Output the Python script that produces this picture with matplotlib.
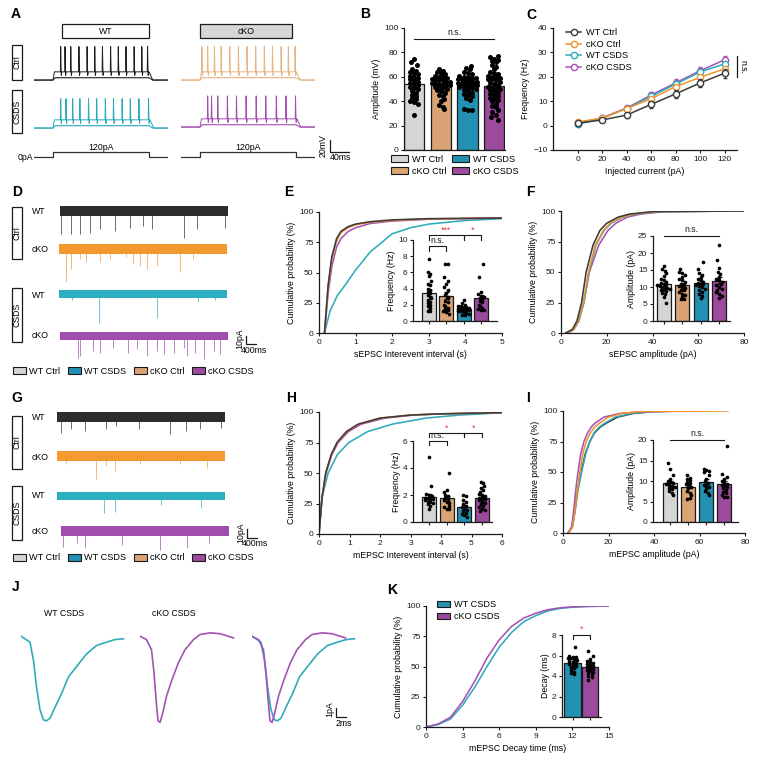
import numpy as np
import matplotlib
matplotlib.use("Agg")
import matplotlib.pyplot as plt
from matplotlib.patches import Rectangle, Patch
from matplotlib.lines import Line2D

plt.rcParams["font.family"] = ["Liberation Sans", "DejaVu Sans"]
plt.rcParams["font.size"] = 6
plt.rcParams["axes.linewidth"] = 0.9

W, H = 761, 770
FS = 6.3      # axis labels / annotations
TS = 6.0      # tick labels
LS = 6.6      # legends
INK = "#1a1a1a"

groups = ["WT Ctrl", "cKO Ctrl", "WT CSDS", "cKO CSDS"]
bar_colors = ["#d5d5d5", "#d9a374", "#2392b2", "#9b4a9c"]
curve_colors = ["#3b3b3b", "#f0922f", "#2fabbb", "#a453b2"]
a_colors = ["#1e1e1e", "#e8b482", "#2aa9b9", "#a24faf"]
trace_colors = ["#2d2d2d", "#f29a30", "#2cb0c1", "#a04ead"]

# ---------------- A: spike times (ms after step onset) and peak voltages
a_spikes = [
    [16, 25, 37, 54, 71, 87, 103, 120, 136, 152, 169, 185, 197],
    [4, 16, 30, 44, 62, 80, 98, 116, 134, 151, 169, 184, 198],
    [16, 27, 41, 56, 74, 91, 109, 126, 144, 161, 179, 199],
    [16, 24, 37, 57, 76, 96, 117, 137, 159, 179, 199],
]
a_peak_mv = [-13, -13, -20, -17]
a_step_pa = 120

# ---------------- B: AP amplitude (mV)
b_wt_ctrl = [75, 72, 70, 66, 65, 64, 63, 62, 61, 60, 59, 58, 57, 56, 55, 54, 53, 52, 51, 50,
             48, 47, 45, 44, 43, 42, 40, 39, 38, 29]
b_cko_ctrl = [66, 65, 64, 63, 62, 61, 60, 60, 59, 58, 58, 57, 57, 56, 56, 55, 55, 54, 54, 53,
              53, 52, 52, 51, 50, 49, 48, 47, 45, 44, 42, 40, 37, 35, 34]
b_wt_csds = [69, 67, 66, 64, 63, 62, 61, 60, 60, 59, 59, 58, 58, 57, 57, 56, 56, 55, 55, 55,
             54, 54, 53, 53, 52, 52, 51, 51, 50, 49, 48, 47, 46, 45, 44, 43, 41, 34, 33, 33]
b_cko_csds = [77, 76, 75, 74, 73, 72, 70, 68, 66, 64, 63, 62, 61, 60, 60, 59, 58, 58, 57, 56,
              55, 54, 53, 52, 51, 50, 50, 49, 48, 47, 46, 45, 44, 43, 42, 41, 40, 38, 36, 35,
              33, 31, 29, 27, 25]

# ---------------- C: firing frequency vs injected current
c_current = [0, 20, 40, 60, 80, 100, 120]
c_freq = [
    [1.0, 2.3, 4.3, 8.7, 13.0, 17.5, 21.5],
    [1.5, 3.0, 7.0, 11.0, 16.0, 19.8, 23.3],
    [0.5, 3.0, 7.0, 12.0, 17.0, 22.0, 25.3],
    [0.8, 3.2, 7.2, 12.5, 17.5, 22.5, 27.0],
]
c_err = [
    [0.5, 0.7, 1.0, 1.3, 1.6, 1.6, 1.8],
    [0.5, 0.6, 1.0, 1.3, 1.3, 1.4, 1.5],
    [0.4, 0.6, 1.0, 1.3, 1.3, 1.4, 1.5],
    [0.4, 0.6, 1.0, 1.4, 1.4, 1.5, 1.6],
]

# ---------------- D / G: event times (s) and amplitudes (pA), noise half width (pA)
d_times = [
    [0.05, 0.43, 0.8, 1.2, 1.6, 2.2, 2.8, 3.33, 3.67, 4.93, 5.47, 6.6],
    [0.29, 0.49, 0.83, 1.09, 1.63, 2.03, 2.69, 2.96, 3.23, 3.49, 3.89, 4.83, 5.36],
    [0.53, 1.59, 3.89, 5.56, 6.23],
    [0.73, 0.8, 1.33, 1.6, 2.13, 2.73, 3.07, 3.47, 3.87, 4.13, 4.53, 4.93, 5.07, 5.4,
     5.73, 6.13, 6.4],
]
d_amps = [
    [28, 28, 28, 26, 22, 24, 20, 18, 22, 32, 22, 20],
    [40, 24, 12, 16, 16, 12, 10, 18, 20, 24, 20, 28, 12],
    [7, 35, 29, 9, 7],
    [26, 24, 18, 20, 14, 20, 16, 24, 18, 22, 20, 14, 24, 20, 28, 18, 22],
]
d_noise = [6.0, 6.0, 5.0, 5.2]
g_times = [
    [0.16, 0.56, 1.13, 1.96, 2.36, 3.29, 4.49, 5.16, 5.69, 6.56],
    [0.37, 1.57, 1.97, 2.31, 3.31, 4.91, 5.97],
    [1.87, 2.33, 4.13, 5.73],
    [0.09, 0.63, 0.96, 2.43, 3.96, 5.03, 5.9],
]
g_amps = [
    [19, 15, 17, 15, 11, 15, 21, 17, 15, 13],
    [10, 28, 12, 18, 10, 10, 14],
    [21, 19, 11, 15],
    [19, 15, 21, 17, 23, 21, 15],
]
g_noise = [5.8, 6.0, 5.0, 5.6]
trace_len_s = 6.7

# ---------------- E: sEPSC interevent interval
e_x = [
    [0.15, 0.25, 0.35, 0.48, 0.6, 0.8, 1.0, 1.4, 2.0, 3.0, 5.0],
    [0.15, 0.25, 0.35, 0.48, 0.6, 0.8, 1.0, 1.4, 2.0, 3.0, 5.0],
    [0.15, 0.3, 0.5, 0.7, 1.0, 1.4, 2.0, 2.5, 3.0, 4.0, 5.0],
    [0.15, 0.25, 0.35, 0.48, 0.6, 0.8, 1.0, 1.4, 2.0, 3.0, 5.0],
]
e_y = [
    [0, 40, 63, 78, 84, 88, 90, 92, 93.5, 94.5, 95],
    [0, 38, 61, 76, 83, 87, 89.5, 91.5, 93, 94.3, 95],
    [0, 18, 31, 39, 52, 67, 82, 87, 90, 93, 94.5],
    [0, 33, 55, 71, 78, 84, 87, 90.5, 92.5, 94, 95],
]
e_freq = [
    [7.6, 6.0, 5.8, 5.6, 5.0, 4.6, 4.4, 4.0, 3.8, 3.6, 3.4, 3.2, 3.0, 2.8, 2.6, 2.4, 2.2, 2.0,
     1.8, 1.6, 1.3, 1.2, 1.2],
    [7.0, 7.0, 5.4, 5.0, 4.6, 4.2, 3.8, 3.5, 3.2, 3.0, 2.8, 2.5, 2.3, 2.0, 1.8, 1.6, 1.5, 1.3,
     1.2, 1.1, 0.9],
    [2.6, 2.2, 2.0, 1.9, 1.8, 1.7, 1.7, 1.6, 1.5, 1.5, 1.4, 1.4, 1.3, 1.2, 1.2, 1.1, 1.0, 0.9,
     0.8, 0.7],
    [7.0, 5.4, 3.6, 3.3, 3.1, 3.0, 2.9, 2.7, 2.5, 2.3, 2.0, 1.8, 1.6, 1.5, 1.4, 1.3],
]

# ---------------- F: sEPSC amplitude
f_y = [0, 3, 10, 25, 50, 72, 84, 90, 95, 97.5, 99.5, 100]
f_x = [
    [2, 5, 7, 9, 11, 14, 17, 20, 25, 30, 40, 80],
    [3, 5.5, 7.6, 9.8, 12, 15, 18.5, 21.5, 26.5, 32, 42, 80],
    [3, 5.6, 7.8, 10, 12.2, 15.3, 18.8, 22, 27, 33, 43, 80],
    [3, 5.6, 7.8, 10, 12.4, 16.5, 20.5, 24, 29, 35, 45, 80],
]
f_amp = [
    [16.2, 15.4, 14.8, 14, 13.2, 12.5, 12, 11.5, 11.2, 11, 10.8, 10.5, 10.3, 10.1, 10, 9.8,
     9.5, 9.2, 9, 8.7, 8.3, 7.8, 7.2, 5.2],
    [15.3, 14.4, 14, 13.5, 13, 12.5, 12, 11.5, 11, 10.6, 10.3, 10, 9.6, 9.2, 9, 8.5, 8, 7.6,
     7.2, 6.5, 6.5],
    [17.3, 15.2, 14, 13.5, 13, 12.5, 12, 11.6, 11.3, 11, 10.8, 10.5, 10.2, 10, 9.5, 9, 8.6, 8,
     7.5, 6.8],
    [22.3, 17.8, 15.5, 14.5, 13.8, 13, 12.5, 12, 11.5, 11, 10.5, 10, 9.5, 9, 8.5, 8, 7.5, 6.8],
]

# ---------------- H: mEPSC interevent interval
h_y = [0, 30, 50, 65, 75, 84, 90, 95, 97.5, 98.5, 99.5]
h_x = [
    [0, 0.1, 0.22, 0.4, 0.59, 0.9, 1.28, 2.0, 3.0, 4.0, 6.0],
    [0, 0.1, 0.22, 0.4, 0.6, 0.92, 1.3, 2.0, 3.0, 4.0, 6.0],
    [0, 0.1, 0.3, 0.6, 0.98, 1.6, 2.4, 3.5, 4.6, 5.4, 6.0],
    [0, 0.1, 0.23, 0.42, 0.63, 0.97, 1.38, 2.15, 3.1, 4.1, 6.0],
]
h_freq = [
    [4.8, 2.7, 2.1, 2.0, 1.9, 1.8, 1.8, 1.7, 1.7, 1.6, 1.5, 1.5, 1.4, 1.3, 1.2, 1.0],
    [3.6, 2.4, 2.2, 2.0, 1.9, 1.8, 1.7, 1.6, 1.5, 1.4, 1.2, 1.1, 1.0, 1.0],
    [2.0, 1.9, 1.6, 1.5, 1.3, 1.2, 1.1, 1.0, 0.9, 0.8, 0.7, 0.6, 0.5, 0.4],
    [3.0, 2.9, 2.7, 2.5, 2.4, 2.2, 2.1, 2.0, 1.9, 1.8, 1.8, 1.7, 1.6, 1.5, 1.4, 1.3, 1.2,
     1.1, 1.0, 0.9, 0.8],
]

# ---------------- I: mEPSC amplitude
i_y = [0, 5, 20, 35, 50, 65, 75, 82, 87, 90, 95, 98, 99.5, 100]
i_x = [
    [2.2, 4.0, 5.3, 6.4, 8.0, 9.8, 11.8, 13.8, 16.5, 19, 24, 31, 40, 52.6],
    [2.6, 4.2, 5.4, 6.3, 7.4, 8.7, 10.2, 12, 14, 16, 20, 26, 34, 72.5],
    [2.4, 4.2, 5.5, 6.6, 8.2, 10.0, 11.8, 13.6, 16.0, 18.3, 23, 30, 39, 52.6],
    [2.4, 3.8, 4.8, 5.6, 6.6, 7.8, 9.2, 10.8, 12.5, 14, 18, 25, 35, 52.6],
]
i_amp = [
    [14.3, 13.0, 11.5, 10.5, 10, 9.8, 9.5, 9.2, 9, 8.8, 8.5, 8.2, 8, 7.5, 7, 6.5],
    [11.5, 10.8, 10.5, 10.2, 9.8, 9.5, 9.2, 9, 8.5, 8.2, 7.5, 7, 6.5, 5.7, 5.8],
    [13, 12.8, 12.5, 12.2, 11.5, 10.5, 10, 9.5, 9, 8.8, 8.5, 8, 7.5, 7, 6.5],
    [18.5, 11.7, 11, 10.5, 10, 9.6, 9.3, 9, 8.8, 8.5, 8.2, 7.8, 7.3, 7, 6.5, 6.2, 6],
]

# ---------------- J: averaged mEPSC waveforms (ms, pA)
j_wt_t = [0, 1.8, 2.5, 3.1, 3.8, 4.5, 5.1, 5.8, 6.8, 8.1, 9.5, 11.1, 13.1, 15.1, 17.1, 18.8, 20.5]
j_wt_i = [0, -0.7, -2.9, -6.0, -8.7, -9.9, -10.0, -9.7, -8.4, -6.8, -4.8, -3.6, -2.1, -1.1,
          -0.7, -0.4, -0.3]
j_cko_t = [0, 1.3, 2.3, 2.8, 3.2, 3.6, 4.0, 4.5, 5.3, 6.3, 7.7, 9.0, 10.7, 12.0, 14.0, 16.0, 18.7]
j_cko_i = [0, -0.4, -1.6, -4.3, -7.4, -10.0, -10.2, -9.2, -7.1, -5.3, -3.1, -1.6, -0.4, 0.2,
           0.4, 0.3, -0.2]

# ---------------- K: mEPSC decay
k_x = [0, 1, 2, 3, 4, 5, 6, 7, 8, 9, 10, 11, 12, 13, 15]
k_wt_csds = [0, 2, 6.5, 18, 33, 50, 66, 78, 87, 92, 96, 98, 99, 99.5, 100]
k_cko_csds = [0, 2.5, 8, 21, 38, 57, 72, 83, 90, 94, 97, 98.5, 99.3, 99.7, 100]
k_decay_wt = [6.8, 6.0, 5.9, 5.9, 5.8, 5.8, 5.7, 5.6, 5.5, 5.4, 5.3, 5.2, 5.1, 5.0, 4.9, 4.8,
              4.6, 4.4, 4.3, 4.2]
k_decay_cko = [6.4, 6.0, 5.7, 5.5, 5.4, 5.3, 5.2, 5.1, 5.0, 4.9, 4.8, 4.7, 4.6, 4.5, 4.4, 4.3,
               4.2, 4.0, 3.9, 3.6]


fig = plt.figure(figsize=(W / 100, H / 100), dpi=100)


def px_axes(x0, y0, x1, y1):
    return fig.add_axes([x0 / W, 1 - y1 / H, (x1 - x0) / W, (y1 - y0) / H])


def style(ax):
    for s in ["top", "right"]:
        ax.spines[s].set_visible(False)
    for s in ["left", "bottom"]:
        ax.spines[s].set_color(INK)
        ax.spines[s].set_linewidth(0.9)
    ax.tick_params(length=2.5, width=0.8, pad=1.5, labelsize=TS, colors=INK)
    ax.patch.set_alpha(0)


def bare(ax):
    ax.axis("off")
    ax.patch.set_alpha(0)


def swarm(vals, binw, step, maxoff):
    v = np.asarray(vals, float)
    offs = np.zeros(len(v))
    bins = np.round(v / binw)
    for b in np.unique(bins):
        idx = np.where(bins == b)[0]
        n = len(idx)
        if n > 1:
            st = min(step, 2 * maxoff / (n - 1))
            offs[idx] = (np.arange(n) - (n - 1) / 2) * st
        else:
            offs[idx] = ((b % 3) - 1) * step * 0.8
    return offs


def dot_bars(ax, data, colors, width, binw, dot_s=7):
    for i, vals in enumerate(data):
        v = np.asarray(vals, float)
        m = v.mean()
        se = v.std(ddof=1) / np.sqrt(len(v))
        ax.bar(i, m, width, color=colors[i], edgecolor=INK, linewidth=0.9, zorder=1)
        ax.errorbar(i, m, yerr=se, fmt="none", ecolor=INK, elinewidth=0.9, capsize=1.8,
                    capthick=0.9, zorder=3)
        ax.scatter(i + swarm(v, binw, width * 0.2, width * 0.45), v, s=dot_s, color="black",
                   linewidths=0, zorder=4, clip_on=False)


def bracket(ax, x1, x2, y, drop, text, color, dy):
    ax.plot([x1, x1, x2, x2], [y - drop, y, y, y - drop], color=INK, lw=0.8, clip_on=False)
    if text:
        ax.text((x1 + x2) / 2, y + dy, text, ha="center", va="bottom", color=color,
                fontsize=FS, clip_on=False)


# ---------------- overlay for labels and boxes
ov = fig.add_axes([0, 0, 1, 1])
ov.set_xlim(0, W)
ov.set_ylim(H, 0)
bare(ov)

for letter, x, y in [("A", 11, 14), ("B", 360, 14), ("C", 526, 15), ("D", 12, 192),
                     ("E", 284, 192), ("F", 526, 192), ("G", 11, 398), ("H", 286, 398),
                     ("I", 526, 398), ("J", 12, 587), ("K", 387, 590)]:
    ov.text(x, y, letter, fontsize=10, fontweight="bold", va="center", ha="left")


def side_box(x0, y0, x1, y1, text):
    ov.add_patch(Rectangle((x0, y0), x1 - x0, y1 - y0, fill=False, lw=0.9, ec=INK))
    ov.text((x0 + x1) / 2, (y0 + y1) / 2, text, rotation=90, ha="center", va="center",
            fontsize=FS)


side_box(12, 45, 22, 80, "Ctrl")
side_box(12, 90, 22, 133, "CSDS")
side_box(12, 207, 22, 259, "Ctrl")
side_box(12, 288, 22, 342, "CSDS")
side_box(12, 416, 22, 469, "Ctrl")
side_box(12, 486, 22, 540, "CSDS")

ov.add_patch(Rectangle((62, 24), 87, 14, fc="white", lw=0.9, ec=INK))
ov.text(105.5, 31, "WT", ha="center", va="center", fontsize=FS)
ov.add_patch(Rectangle((200, 24), 92, 14, fc="#d6d6d6", lw=0.9, ec=INK))
ov.text(246, 31, "cKO", ha="center", va="center", fontsize=FS)

for ys in ([211, 250, 295, 336], [418, 457, 496, 531]):
    for y, lab in zip(ys, ["WT", "cKO", "WT", "cKO"]):
        ov.text(32, y, lab, ha="left", va="center", fontsize=FS)

ov.text(64, 614, "WT CSDS", ha="center", va="center", fontsize=FS)
ov.text(174, 614, "cKO CSDS", ha="center", va="center", fontsize=FS)

# ---------------- A: current-clamp traces
a_boxes = [(33.8, 36, 168.2, 83), (180.8, 36, 315.2, 83),
           (33.8, 84, 168.2, 131), (180.8, 83, 315.2, 130)]
rest, plateau, sub = -70, -56, -66
a_axes = []
for k in range(4):
    ax = px_axes(*a_boxes[k])
    bare(ax)
    ax.set_xlim(-40, 240)
    ax.set_ylim(-75, 5)
    t = [-40, 0, 3]
    v = [rest, rest, plateau]
    for s in a_spikes[k]:
        t += [s - 0.6, s, s + 1.2, s + 2.5]
        v += [plateau, a_peak_mv[k], plateau - 6, plateau]
    t += [max(200, t[-1] + 0.5), max(200, t[-1] + 0.5) + 8, 240]
    v += [plateau, rest, rest]
    ax.plot([-40, 0, 5, 200, 208, 240], [rest, rest, sub, sub, rest, rest],
            color=a_colors[k], lw=0.8)
    ax.plot(t, v, color=a_colors[k], lw=0.7)
    a_axes.append(ax)

for x0, x1 in [(33.8, 168.2), (180.8, 315.2)]:
    ax = px_axes(x0, 146, x1, 160)
    bare(ax)
    ax.set_xlim(-40, 240)
    ax.set_ylim(-70, 266)
    ax.plot([-40, 0, 0, 200, 200, 240], [0, 0, a_step_pa, a_step_pa, 0, 0], color="#333333",
            lw=0.9)
    ax.text(100, a_step_pa + 12, f"{a_step_pa}pA", ha="center", va="bottom", fontsize=FS)
    if x0 < 100:
        ax.text(-41, 0, "0pA", ha="right", va="center", fontsize=FS)

axs = a_axes[3]
axs.plot([271, 271, 311], [-92, -112, -112], color=INK, lw=0.9, clip_on=False)
axs.text(257, -102, "20mV", rotation=90, ha="center", va="center", fontsize=FS)
axs.text(293, -115, "40ms", ha="center", va="top", fontsize=FS)

# ---------------- B
axB = px_axes(404, 28, 505, 150)
style(axB)
dot_bars(axB, [b_wt_ctrl, b_cko_ctrl, b_wt_csds, b_cko_csds], bar_colors, 0.76, 3.0, dot_s=13)
axB.set_xlim(-0.38, 3.4)
axB.set_ylim(0, 100)
axB.set_yticks(range(0, 101, 20))
axB.set_xticks([])
axB.set_ylabel("Amplitude (mV)", fontsize=FS, labelpad=2)
bracket(axB, 0, 3, 91, 0, "n.s.", INK, 2)
hB = [Patch(fc=bar_colors[i], ec=INK, lw=0.8, label=groups[i]) for i in range(4)]
axB.legend(handles=hB, ncol=2, loc="upper left", bbox_to_anchor=(-0.13, -0.04), frameon=False,
           fontsize=LS, handlelength=1.9, handleheight=0.8, handletextpad=0.4,
           columnspacing=0.6, labelspacing=0.3, borderpad=0, borderaxespad=0)

# ---------------- C
axC = px_axes(553, 28, 737, 150)
style(axC)
for k in [3, 2, 1, 0]:
    axC.errorbar(c_current, c_freq[k], yerr=c_err[k], color=curve_colors[k], lw=1.1, marker="o",
                 ms=4.5, mfc="white", mec=curve_colors[k], mew=1.0, capsize=1.5, elinewidth=0.9,
                 zorder=3 + (k == 0))
axC.set_xlim(-20, 130)
axC.set_ylim(-10, 40)
axC.set_xticks(range(0, 121, 20))
axC.set_yticks(range(-10, 41, 10))
axC.set_xlabel("Injected current (pA)", fontsize=FS, labelpad=3)
axC.set_ylabel("Frequency (Hz)", fontsize=FS, labelpad=2)
hC = [Line2D([], [], color=curve_colors[k], lw=1.1, marker="o", ms=4.5, mfc="white",
             mec=curve_colors[k], mew=1.0, label=groups[k]) for k in range(4)]
axC.legend(handles=hC, loc="upper left", bbox_to_anchor=(0.07, 1.0), frameon=False,
           fontsize=LS, handlelength=1.7, handletextpad=0.5, labelspacing=0.3,
           borderpad=0, borderaxespad=0)
axC.plot([129.6, 129.6], [20, 28.5], color=INK, lw=0.9, clip_on=False)
axC.text(134.5, 24.2, "n.s.", rotation=270, ha="center", va="center", fontsize=FS)


# ---------------- D / G traces
def event_traces(centers, x0s, times, amps, noise, scale_y):
    axes = []
    for k in range(4):
        c = centers[k]
        ax = px_axes(x0s[k], c - 6.6, x0s[k] + 168, c + 37.4)
        bare(ax)
        ax.set_xlim(0, trace_len_s)
        ax.set_ylim(-45, 8)
        col = trace_colors[k]
        ax.fill_between([0, trace_len_s], -noise[k], noise[k], color=col, lw=0)
        ax.vlines(times[k], 0, -np.asarray(amps[k]), color=col, lw=0.7, alpha=0.7,
                  clip_on=False)
        axes.append(ax)
    ax = axes[3]
    ax.plot([7.4, 7.4, 7.8], [scale_y, scale_y - 10, scale_y - 10], color=INK, lw=0.9,
            clip_on=False)
    ax.text(7.15, scale_y - 4, "10pA", rotation=90, ha="center", va="center", fontsize=FS)
    ax.text(7.75, scale_y - 12, "400ms", ha="center", va="top", fontsize=FS)


event_traces([211, 249, 294, 336], [60, 59, 59, 60], d_times, d_amps, d_noise, 0.4)
event_traces([417, 456, 496, 531], [57, 57, 57, 61], g_times, g_amps, g_noise, 2.0)

row_handles = [Patch(fc=bar_colors[i], ec=INK, lw=0.8, label=groups[i]) for i in [0, 2, 1, 3]]
for yrow in (371, 558):
    fig.legend(handles=row_handles, loc="center left", bbox_to_anchor=(13 / W, 1 - yrow / H),
               ncol=4, frameon=False, fontsize=LS, handlelength=1.4, handleheight=0.7,
               handletextpad=0.35, columnspacing=0.85, borderpad=0, borderaxespad=0)


# ---------------- cumulative panels with insets
def cum_axes(box, xs, ys, xlim, xticks, xlabel, order=(2, 3, 1, 0)):
    ax = px_axes(*box)
    style(ax)
    for k in order:
        ax.plot(xs[k], ys[k] if isinstance(ys[0], list) else ys, color=curve_colors[k], lw=1.15)
    ax.set_xlim(*xlim)
    ax.set_ylim(0, 100)
    ax.set_xticks(xticks)
    ax.set_yticks([0, 25, 50, 75, 100])
    ax.set_xlabel(xlabel, fontsize=FS, labelpad=3)
    ax.set_ylabel("Cumulative probability (%)", fontsize=FS, labelpad=2)
    return ax


def inset(box, data, colors, xlim, ylim, yticks, ylabel, binw, width=0.8):
    ax = px_axes(*box)
    style(ax)
    dot_bars(ax, data, colors, width, binw)
    ax.set_xlim(*xlim)
    ax.set_ylim(*ylim)
    ax.set_yticks(yticks)
    ax.set_xticks(range(len(data)))
    ax.set_xticklabels([])
    ax.set_ylabel(ylabel, fontsize=FS, labelpad=1.5)
    return ax


cum_axes((319, 212, 502, 333), e_x, e_y, (0, 5), range(0, 6), "sEPSC Interevent interval (s)")
axEi = inset((413, 240, 497, 321), e_freq, bar_colors, (-0.92, 3.93), (0, 10), range(0, 11, 2),
             "Frequency (Hz)", 0.35)
bracket(axEi, 0, 2, 10.6, 0.6, "***", "#e8343a", 0.05)
bracket(axEi, 2, 3, 10.6, 0.6, "*", "#e8343a", 0.05)
bracket(axEi, 0, 1, 9.3, 0.6, "n.s.", INK, 0.05)

cum_axes((561, 211, 744, 333), f_x, f_y, (0, 80), range(0, 81, 20), "sEPSC amplitude (pA)",
         order=(3, 2, 1, 0))
axFi = inset((653, 236, 730, 321), f_amp, bar_colors, (-0.58, 3.6), (0, 25), range(0, 26, 5),
             "Amplitude (pA)", 1.0, width=0.76)
bracket(axFi, 0, 3, 25, 0, "n.s.", INK, 0.6)

cum_axes((319, 412, 502, 534), h_x, h_y, (0, 6), range(0, 7), "mEPSC Interevent interval (s)")
axHi = inset((413, 441, 492, 522), h_freq, bar_colors, (-0.9, 3.56), (0, 6), range(0, 7, 2),
             "Frequency (Hz)", 0.25)
bracket(axHi, 0, 2, 6.57, 0.3, "*", "#e8343a", 0.02)
bracket(axHi, 2, 3, 6.57, 0.3, "*", "#e8343a", 0.02)
bracket(axHi, 0, 1, 6.02, 0.3, "n.s.", INK, 0.02)

cum_axes((563, 411, 745, 533), i_x, i_y, (0, 80), range(0, 81, 20), "mEPSC amplitude (pA)",
         order=(0, 2, 3, 1))
axIi = inset((653, 440, 738, 522), i_amp, bar_colors, (-0.97, 3.76), (0, 20), range(0, 21, 5),
             "Amplitude (pA)", 0.8, width=0.78)
bracket(axIi, 0, 3, 20, 0, "n.s.", INK, 0.5)

# ---------------- J waveforms
for box, sets in [((21, 632, 126, 725), [(j_wt_t, j_wt_i, 2)]),
                  ((140, 632, 245, 725), [(j_cko_t, j_cko_i, 3)]),
                  ((252, 632, 357, 725), [(j_wt_t, j_wt_i, 2), (j_cko_t, j_cko_i, 3)])]:
    ax = px_axes(*box)
    bare(ax)
    ax.set_xlim(0, 21)
    ax.set_ylim(-10.5, 0.5)
    for t, i, k in sets:
        ax.plot(t, i, color=curve_colors[k], lw=1.2)
    jax = ax
jax.plot([16.8, 16.8, 18.8], [-8.5, -9.5, -9.5], color=INK, lw=0.9, clip_on=False)
jax.text(15.6, -8.6, "1pA", rotation=90, ha="center", va="center", fontsize=FS)
jax.text(18.3, -9.8, "2ms", ha="center", va="top", fontsize=FS)

# ---------------- K
axK = px_axes(426, 606, 609, 727)
style(axK)
axK.plot(k_x, k_wt_csds, color=curve_colors[2], lw=1.15)
axK.plot(k_x, k_cko_csds, color=curve_colors[3], lw=1.15)
axK.set_xlim(0, 15)
axK.set_ylim(0, 100)
axK.set_xticks(range(0, 16, 3))
axK.set_yticks([0, 25, 50, 75, 100])
axK.set_xlabel("mEPSC Decay time (ms)", fontsize=FS, labelpad=3)
axK.set_ylabel("Cumulative probability (%)", fontsize=FS, labelpad=2)
hK = [Patch(fc=bar_colors[i], ec=INK, lw=0.8, label=groups[i]) for i in (2, 3)]
axK.legend(handles=hK, loc="upper left", bbox_to_anchor=(0.06, 1.05), frameon=False,
           fontsize=LS, handlelength=1.45, handleheight=0.7, handletextpad=0.4,
           labelspacing=0.35, borderpad=0, borderaxespad=0)
axKi = inset((562, 635, 601, 717), [k_decay_wt, k_decay_cko], bar_colors[2:], (-0.6, 1.62),
             (0, 8), range(0, 9, 2), "Decay (ms)", 0.3, width=0.92)
bracket(axKi, 0, 1, 8.0, 0.4, "*", "#e8343a", 0.15)

fig.savefig("out.png", dpi=100)
